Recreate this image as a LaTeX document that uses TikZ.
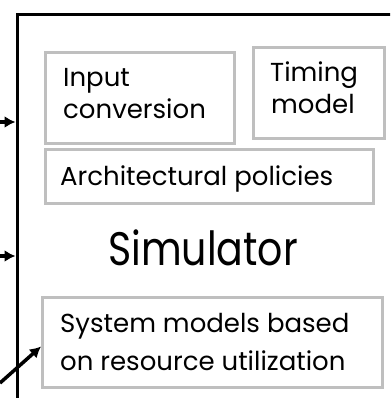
\documentclass[tikz,border=0pt]{standalone}
\usepackage{fontspec}
\setmainfont{Poppins}
\newfontfamily\titlefont[FakeStretch=0.84]{Poppins}
\usetikzlibrary{arrows.meta}
\begin{document}
\begin{tikzpicture}[x=1pt,y=-1pt,
  part/.style={draw=black!25,line width=3pt,rectangle,inner sep=0pt},
  lbl/.style={inner sep=0pt,anchor=base west,font=\fontsize{26}{32}\selectfont},
  feed/.style={line width=3.5pt,-{Latex[length=11pt,width=12pt]}}]
\clip (0,0) rectangle (390,398);
\fill[white] (0,0) rectangle (390,398);
% simulator frame, running off the right and bottom
\node[draw,line width=3.5pt,rectangle,inner sep=0pt,minimum width=420pt,minimum height=420pt,anchor=north west] (frame) at (15.5,13) {};
% component boxes
\node[part,minimum width=189pt,minimum height=91pt,anchor=north west] (inp) at (44,51) {};
\node[part,minimum width=131pt,minimum height=91pt,anchor=north west] (tim) at (252,46) {};
\node[part,minimum width=328pt,minimum height=54pt,anchor=north west] (arch) at (44,148) {};
\node[part,minimum width=340pt,minimum height=90pt,anchor=north west] (sys) at (41,296) {};
% labels
\node[lbl] (tinp1) at (63,87) {Input};
\node[lbl] (tinp2) at (63,119) {conversion};
\node[lbl] (ttim1) at (270,82) {Timing};
\node[lbl] (ttim2) at (271,114) {model};
\node[lbl] (tarch) at (60,185) {Architectural policies};
\node[inner sep=0pt,anchor=base west,font=\titlefont\fontsize{47}{50}\selectfont] (tsim) at (108,265) {Simulator};
\node[lbl] (tsys1) at (60,332) {System models based};
\node[lbl] (tsys2) at (60,370) {on resource utilization};
% incoming signals
\coordinate (s1) at (0,122);
\coordinate (s2) at (-10,256);
\coordinate (s3) at (0,383);
\draw[feed] (s1) -- (s1 -| frame.west);
\draw[feed] (s2) -- (s2 -| frame.west);
\draw[feed] (s3) -- ([yshift=-4pt]sys.west);
\end{tikzpicture}
\end{document}
